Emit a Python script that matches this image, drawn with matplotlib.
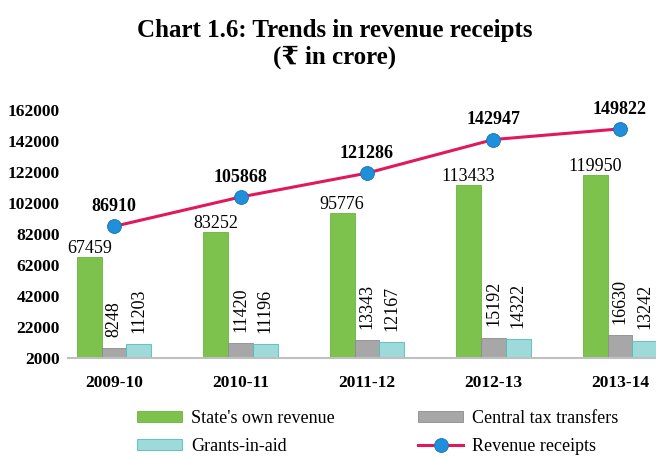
import matplotlib
matplotlib.use("Agg")
import matplotlib.pyplot as plt
import numpy as np

plt.rcParams["font.family"] = ["Liberation Serif", "DejaVu Serif", "DejaVu Sans"]

YEARS = ["2009-10", "2010-11", "2011-12", "2012-13", "2013-14"]
OWN_REVENUE = [67459, 83252, 95776, 113433, 119950]
CENTRAL_TAX = [8248, 11420, 13343, 15192, 16630]
GRANTS = [11203, 11196, 12167, 14322, 13242]
REVENUE_RECEIPTS = [86910, 105868, 121286, 142947, 149822]
Y_TICKS = list(range(2000, 162001, 20000))

GREEN = "#7DC24C"
GREY = "#A7A7A7"
CYAN = "#9FDADA"
LINE = "#E0195A"
BALL = "#1E8FD8"

fig = plt.figure(figsize=(6.56, 4.59), dpi=100)
ax = fig.add_axes([68 / 656, 101 / 459, 1 - 68 / 656, 248 / 459])

x = np.arange(len(YEARS))
w = 0.196
base = Y_TICKS[0]

own = ax.bar(x - w, np.array(OWN_REVENUE) - base, w, bottom=base, color=GREEN,
             edgecolor="#6AB43C", linewidth=0.6, label="State's own revenue")
tax = ax.bar(x, np.array(CENTRAL_TAX) - base, w, bottom=base, color=GREY,
             edgecolor="#8C8C8C", linewidth=0.6, label="Central tax transfers")
grants = ax.bar(x + w, np.array(GRANTS) - base, w, bottom=base, color=CYAN,
                edgecolor="#4DBDBD", linewidth=0.6, label="Grants-in-aid")
line, = ax.plot(x, REVENUE_RECEIPTS, color=LINE, lw=2.2, marker="o", ms=10,
                markerfacecolor=BALL, markeredgecolor="#1670B8", markeredgewidth=0.6,
                label="Revenue receipts", zorder=5)

for xi, v in zip(x - w, OWN_REVENUE):
    ax.annotate(str(v), (xi, v), xytext=(0, 0), textcoords="offset points",
                ha="center", va="bottom", fontsize=13)
for offset, values in ((0, CENTRAL_TAX), (w, GRANTS)):
    for xi, v in zip(x + offset, values):
        ax.annotate(str(v), (xi, v), xytext=(0, 8), textcoords="offset points",
                    ha="center", va="bottom", rotation=90, fontsize=13)
for xi, v in zip(x, REVENUE_RECEIPTS):
    ax.annotate(str(v), (xi, v), xytext=(0, 8), textcoords="offset points",
                ha="center", va="bottom", fontsize=13, fontweight="bold")

ax.set_xlim(-0.364, 4.285)
ax.set_ylim(2000, 162000)
ax.set_yticks(Y_TICKS)
ax.set_yticklabels([str(t) for t in Y_TICKS], fontsize=12.5, fontweight="bold")
ax.set_xticks(x)
ax.set_xticklabels(YEARS, fontsize=12.5, fontweight="bold")
ax.tick_params(axis="both", length=0)
ax.tick_params(axis="x", pad=12)
ax.tick_params(axis="y", pad=6)
for side in ("top", "right", "left"):
    ax.spines[side].set_visible(False)
ax.spines["bottom"].set_color("#BFBFBF")
ax.spines["bottom"].set_linewidth(1.5)

fig.text(0.51, 1 - 30 / 459, "Chart 1.6: Trends in revenue receipts", ha="center",
         va="center", fontsize=18, fontweight="bold")
fig.text(0.51, 1 - 57 / 459, "(\u20b9 in crore)", ha="center", va="center",
         fontsize=18, fontweight="bold")

fig.legend([own, grants, tax, line],
           ["State's own revenue", "Grants-in-aid", "Central tax transfers", "Revenue receipts"],
           loc="upper left", bbox_to_anchor=(137 / 656, 1 - 410 / 459), ncol=2,
           frameon=False, fontsize=13, borderaxespad=0, borderpad=0,
           handlelength=2.5, handleheight=0.55, handletextpad=0.5,
           columnspacing=4.6, labelspacing=0.6)

fig.savefig("out.png", dpi=100)
